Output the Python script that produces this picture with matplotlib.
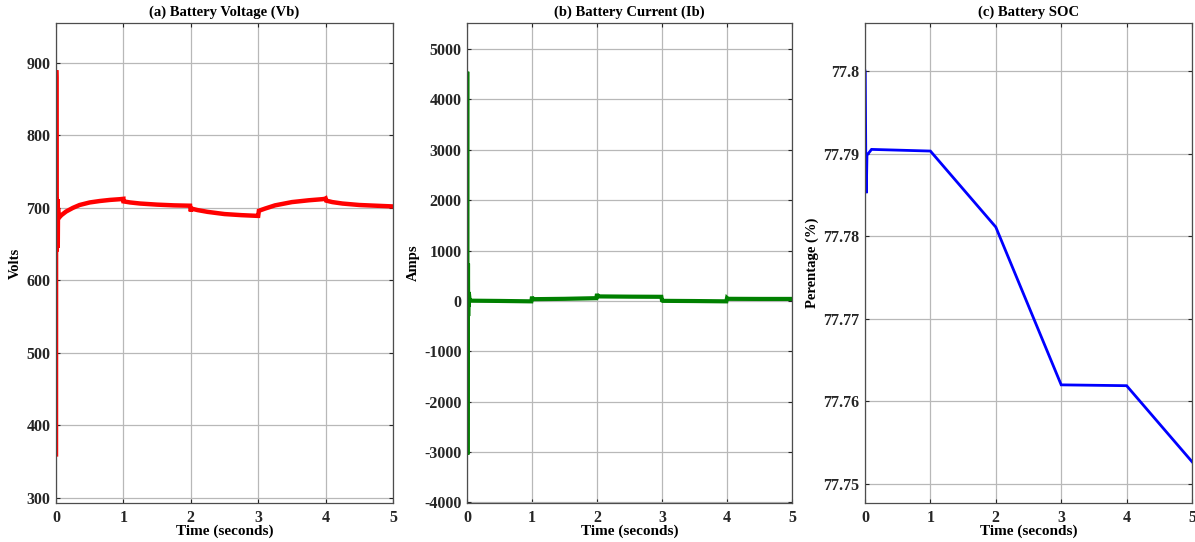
import numpy as np
import matplotlib
matplotlib.use('Agg')
import matplotlib.pyplot as plt

plt.rcParams['font.family'] = ['Liberation Serif', 'DejaVu Serif']
plt.rcParams['font.weight'] = 'bold'

# (a) battery voltage, volts
volt_t = [0, 0.002, 0.004, 0.006, 0.008, 0.010, 0.012, 0.015, 0.018, 0.022, 0.026, 0.03,
          0.04, 0.06, 0.08, 0.15, 0.25, 0.35, 0.5, 0.65, 0.8, 0.95, 1.0, 1.001, 1.1, 1.25,
          1.5, 1.75, 1.99, 2.0, 2.01, 2.1, 2.25, 2.5, 2.75, 2.99, 3.0, 3.01, 3.1, 3.25, 3.5,
          3.75, 3.95, 3.99, 4.0, 4.01, 4.1, 4.25, 4.5, 4.75, 5.0]
volt_v = [360, 890, 880, 700, 640, 715, 650, 700, 690, 712, 645, 700,
          686, 688, 690, 695, 700, 704, 707.5, 709.5, 711, 712, 712.5, 709, 707.5, 706,
          704.5, 703.5, 703, 695, 699, 697, 694.5, 691.5, 690, 689, 689, 696, 699, 703.5, 708,
          710.5, 712, 712.5, 713, 710, 708, 706, 704, 703, 702]

# (b) battery current, amps
curr_t = [0, 0.003, 0.006, 0.009, 0.012, 0.015, 0.018, 0.022, 0.026, 0.03, 0.04, 0.06,
          0.5, 0.99, 1.0, 1.01, 1.5, 1.99, 2.0, 2.01, 2.5, 2.99, 3.0, 3.01, 3.5, 3.99,
          4.0, 4.01, 4.5, 5.0]
curr_v = [0, 4550, -3050, 720, -420, 740, -300, 180, -120, 140, 20, 5,
          0, -8, 85, 35, 42, 55, 140, 90, 85, 82, 10, 2, -2, -8,
          55, 42, 40, 40]

# (c) battery state of charge, percent
soc_t = [0, 0.004, 0.015, 0.02, 0.03, 0.05, 0.1, 1.0, 2.0, 3.0, 4.0, 5.0]
soc_v = [77.800, 77.7998, 77.7860, 77.7852, 77.7898, 77.7900, 77.7905, 77.7903,
         77.7811, 77.7620, 77.7619, 77.7527]

x_ticks = [0, 1, 2, 3, 4, 5]

fig = plt.figure(figsize=(11.95, 5.42), dpi=100)

# axes boxes measured in pixels: top 23, bottom 503
bot = 39 / 542
hgt = 480 / 542
panels = [
    ([56 / 1195, bot, 337 / 1195, hgt], volt_t, volt_v, 'red', 3.2, (293, 955),
     [300, 400, 500, 600, 700, 800, 900],
     ['300', '400', '500', '600', '700', '800', '900'], '(a) Battery Voltage (Vb)', 'Volts'),
    ([467 / 1195, bot, 325 / 1195, hgt], curr_t, curr_v, '#008000', 3.0, (-4010, 5516),
     list(range(-4000, 5001, 1000)),
     [str(v) for v in range(-4000, 5001, 1000)], '(b) Battery Current (Ib)', 'Amps'),
    ([865 / 1195, bot, 327 / 1195, hgt], soc_t, soc_v, 'blue', 2.0, (77.7477, 77.8058),
     [77.75, 77.76, 77.77, 77.78, 77.79, 77.8],
     ['77.75', '77.76', '77.77', '77.78', '77.79', '77.8'], '(c) Battery SOC', 'Perentage (%)'),
]

for rect, t, y, col, lw, ylim, yt, ytl, title, ylab in panels:
    ax = fig.add_axes(rect)
    ax.plot(t, y, color=col, linewidth=lw, solid_joinstyle='miter')
    ax.set_xlim(0, 5)
    ax.set_ylim(*ylim)
    ax.set_xticks(x_ticks)
    ax.set_xticklabels([str(v) for v in x_ticks])
    ax.set_yticks(yt)
    ax.set_yticklabels(ytl)
    ax.grid(True, color='0.72', linewidth=0.9)
    ax.set_axisbelow(True)
    ax.tick_params(direction='in', length=3, labelsize=11.5, pad=4, colors='0.15',
                   top=True, right=True)
    ax.tick_params(axis='x', pad=5)
    for tl in ax.get_xticklabels() + ax.get_yticklabels():
        tl.set_fontweight('bold')
    for s in ax.spines.values():
        s.set_color('0.3')
        s.set_linewidth(0.9)
    ax.set_title(title, fontsize=10.5, fontweight='bold', pad=5)
    ax.set_xlabel('Time (seconds)', fontsize=11, fontweight='bold', labelpad=-1)
    ax.set_ylabel(ylab, fontsize=10.5, fontweight='bold', labelpad=3)

fig.savefig('out.png', dpi=100)
